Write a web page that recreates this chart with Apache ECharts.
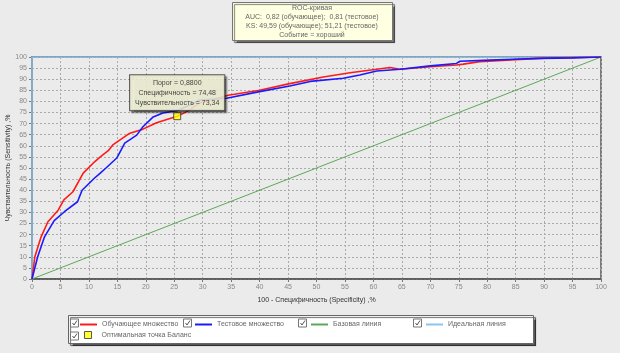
<!DOCTYPE html>
<html>
<head>
<meta charset="utf-8">
<script src="https://cdn.jsdelivr.net/npm/echarts@6/dist/echarts.min.js"></script>
<style>
	html, body { margin: 0; padding: 0; background: #ebebeb; }
	#chart { width: 620px; height: 353px; }
</style>
</head>
<body>
<div id="chart"></div>
<script>
// ROC: обучающее множество (красная)
var trainX = [0, 0.5, 1.6, 2.8, 4.6, 5.6, 7.2, 9, 11, 12, 13.4, 14.2, 17.2, 19.5, 21.9, 25.5, 27.2, 29.5, 34.5, 40, 45.3, 51.2, 55.9, 60.6, 62.9, 64.7, 70, 74.6, 75.8, 78.7, 85, 90, 100];
var trainY = [0, 10, 19, 25.8, 31, 35.6, 39.3, 47.7, 52.8, 55, 57.8, 60.4, 65.7, 67.5, 70.4, 73.3, 75.4, 79.3, 82.8, 85, 88, 91, 92.9, 94.5, 95.3, 94.5, 95.6, 96.4, 96.8, 97.9, 98.8, 99.5, 100];
// тестовое множество (синяя)
var testX = [0, 1, 2.2, 3.9, 5.7, 8, 8.8, 11, 12, 13, 14.9, 16.3, 18.4, 19.5, 21.3, 23, 25.4, 27.8, 29.5, 34.2, 40, 45.3, 48.9, 54.7, 57.6, 60.6, 64.7, 70, 74.6, 75.2, 80.5, 84.6, 89.3, 95, 100];
var testY = [0, 10, 19, 26.3, 30.3, 34.8, 40, 45.5, 47.7, 50, 54.5, 61.2, 64.8, 68.6, 73, 74.8, 75.8, 78.4, 80.6, 81.4, 84.4, 86.9, 89, 90.4, 91.9, 93.7, 94.5, 96, 97.1, 98.1, 98.6, 99, 99.4, 99.6, 100];
var baseX = [0, 100];
var baseY = [0, 100];
var idealX = [0, 0, 100];
var idealY = [0, 100, 100];
var optimal = [25.52, 73.34];

var seriesNames = ['Обучающее множество', 'Тестовое множество', 'Базовая линия', 'Идеальная линия', 'Оптимальная точка Баланс'];
var seriesColors = ['#ff1a1a', '#1a1aff', '#5aa85a', '#8cc4f0', '#ffff00'];
var titleLines = ['ROC-кривая', 'AUC:  0,82 (обучающее);  0,81 (тестовое)', 'KS: 49,59 (обучающее); 51,21 (тестовое)', 'Событие = хороший'];

function pairs(xs, ys) {
	return xs.map(function (x, i) { return [x, ys[i]]; });
}

var font = 'Liberation Sans';

function legendAt(i, left, top, square) {
	return {
		data: [{
			name: seriesNames[i], icon: 'rect',
			itemStyle: square ? { color: seriesColors[i], borderColor: '#333', borderWidth: 1 } : { color: seriesColors[i], borderWidth: 0 }
		}],
		left: left, top: top, selectedMode: false,
		itemWidth: square ? 7 : 17, itemHeight: square ? 7 : 2, padding: 0,
		textStyle: { fontSize: 7, color: '#666', fontFamily: font, padding: square ? [0, 0, 0, 5] : 0 }
	};
}

function checkbox(x, y) {
	return {
		type: 'group', left: x, top: y, children: [
			{ type: 'rect', shape: { x: 0, y: 0, width: 8, height: 8 }, style: { fill: '#fff', stroke: '#777', lineWidth: 1 } },
			{ type: 'polyline', shape: { points: [[2, 4], [3.5, 6], [6.5, 1.5]] }, style: { stroke: '#555', lineWidth: 1, fill: null } }
		]
	};
}

var chart = echarts.init(document.getElementById('chart'));

chart.setOption({
	backgroundColor: '#ebebeb',
	animation: false,
	grid: { left: 32, right: 19, top: 57, bottom: 74, outerBoundsMode: 'none', containLabel: false, show: true, borderColor: '#555', borderWidth: 1.5, backgroundColor: '#ebebeb' },
	xAxis: {
		type: 'value', min: 0, max: 100, interval: 5,
		name: '100 - Специфичность (Specificity) ,%',
		nameLocation: 'middle', nameGap: 18, nameMoveOverlap: false,
		nameTextStyle: { fontSize: 7, color: '#333', fontFamily: font },
		axisLine: { lineStyle: { color: '#555', width: 1.5 } },
		axisTick: { length: 3, lineStyle: { color: '#777' } },
		axisLabel: { fontSize: 7, color: '#888', fontFamily: font, margin: 5 },
		splitLine: { lineStyle: { color: '#aaa', type: [2, 2] } }
	},
	yAxis: {
		type: 'value', min: 0, max: 100, interval: 5,
		name: 'Чувствительность (Sensitivity) ,%',
		nameLocation: 'middle', nameGap: 20, nameMoveOverlap: false,
		nameTextStyle: { fontSize: 7, color: '#333', fontFamily: font },
		axisLine: { show: true, lineStyle: { color: '#555', width: 1.5 } },
		axisTick: { show: true, length: 3, lineStyle: { color: '#777' } },
		axisLabel: { fontSize: 7, color: '#888', fontFamily: font, margin: 5 },
		splitLine: { lineStyle: { color: '#aaa', type: [2, 2] } }
	},
	legend: [
		legendAt(0, 80, 321),
		legendAt(1, 195, 321),
		legendAt(2, 311, 321),
		legendAt(3, 426, 321),
		legendAt(4, 84, 331, true)
	],
	graphic: [
		{
			type: 'rect', left: 232, top: 2, z: 10,
			shape: { width: 160, height: 38 },
			style: { fill: '#ffffe1', stroke: '#777', lineWidth: 1, shadowColor: 'rgba(0,0,0,0.5)', shadowOffsetX: 2, shadowOffsetY: 2, shadowBlur: 1 }
		},
		{
			type: 'text', x: 312, y: 4, z: 11,
			style: { text: titleLines.join('\n'), textAlign: 'center', fill: '#666', font: '7px "' + font + '"', lineHeight: 9 }
		},
		{
			type: 'rect', left: 68, top: 315, z: 0,
			shape: { width: 465, height: 28 },
			style: { fill: '#fff', stroke: '#666', lineWidth: 1, shadowColor: 'rgba(0,0,0,0.6)', shadowOffsetX: 2, shadowOffsetY: 2, shadowBlur: 1 }
		},
		checkbox(70, 318),
		checkbox(183, 318),
		checkbox(298, 318),
		checkbox(413, 318),
		checkbox(70, 331)
	],
	series: [
		{
			name: seriesNames[3], type: 'line', symbol: 'none', z: 2,
			data: pairs(idealX, idealY),
			lineStyle: { color: seriesColors[3], width: 1.5 }, itemStyle: { color: seriesColors[3] }
		},
		{
			name: seriesNames[2], type: 'line', symbol: 'none', z: 2,
			data: pairs(baseX, baseY),
			lineStyle: { color: seriesColors[2], width: 1 }, itemStyle: { color: seriesColors[2] }
		},
		{
			name: seriesNames[0], type: 'line', symbol: 'none', z: 3,
			data: pairs(trainX, trainY),
			lineStyle: { color: seriesColors[0], width: 1.6 }, itemStyle: { color: seriesColors[0] }
		},
		{
			name: seriesNames[1], type: 'line', symbol: 'none', z: 4,
			data: pairs(testX, testY),
			lineStyle: { color: seriesColors[1], width: 1.6 }, itemStyle: { color: seriesColors[1] }
		},
		{
			name: seriesNames[4], type: 'scatter', symbol: 'rect', symbolSize: 7, z: 6,
			data: [optimal],
			itemStyle: { color: seriesColors[4], borderColor: '#333', borderWidth: 1 },
			label: {
				show: true, position: 'top', distance: 2,
				formatter: 'Порог = 0,8800\nСпецифичность = 74,48\nЧувствительность = 73,34',
				fontSize: 7, lineHeight: 10, color: '#111', fontFamily: font, align: 'center',
				backgroundColor: '#ffffe1', borderColor: '#333', borderWidth: 1, padding: [3, 5, 2, 5],
				shadowColor: 'rgba(0,0,0,0.5)', shadowOffsetX: 2, shadowOffsetY: 2, shadowBlur: 1
			}
		}
	]
});
</script>
</body>
</html>
